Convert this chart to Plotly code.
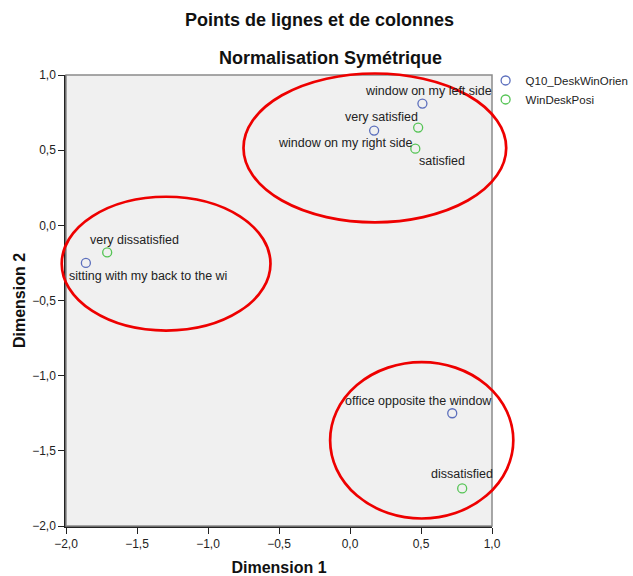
import plotly.graph_objects as go

# row points (Q10_DeskWinOrien)
q10_labels = ["window on my left side", "window on my right side",
              "sitting with my back to the wi", "office opposite the window"]
q10_dim1 = [0.51, 0.17, -1.86, 0.72]
q10_dim2 = [0.81, 0.63, -0.25, -1.25]

# column points (WinDeskPosi)
win_labels = ["very satisfied", "satisfied", "very dissatisfied", "dissatisfied"]
win_dim1 = [0.48, 0.46, -1.71, 0.79]
win_dim2 = [0.65, 0.51, -0.18, -1.75]

x_ticks = [-2.0, -1.5, -1.0, -0.5, 0.0, 0.5, 1.0]
y_ticks = [1.0, 0.5, 0.0, -0.5, -1.0, -1.5, -2.0]

# label offsets in pixels (xshift, yshift)
q10_offsets = [(6, 13), (-29, -12), (62, -13), (-34, 12)]
win_offsets = [(-37, 11), (27, -12), (27, 12), (0, 14)]

# hand drawn ellipses: x0, x1, y0, y1 in data units
ellipses = [(-0.75, 1.10, 0.02, 1.01),
            (-2.03, -0.56, -0.70, 0.19),
            (-0.14, 1.15, -1.95, -0.91)]

XR = [-2.0, 1.0]
YR = [-2.0, 1.0]
BLUE = "#5C6FBD"
GREEN = "#55C455"
FONT = "Liberation Sans, Arial, sans-serif"

fig = go.Figure()
fig.add_trace(go.Scatter(x=q10_dim1, y=q10_dim2, mode="markers", name="Q10_DeskWinOrien",
                         marker=dict(symbol="circle-open", size=9, color=BLUE, line_width=1.3)))
fig.add_trace(go.Scatter(x=win_dim1, y=win_dim2, mode="markers", name="WinDeskPosi",
                         marker=dict(symbol="circle-open", size=9, color=GREEN, line_width=1.3)))

annotations = []
for labels, xs, ys, offs in [(q10_labels, q10_dim1, q10_dim2, q10_offsets),
                             (win_labels, win_dim1, win_dim2, win_offsets)]:
    for lab, x, y, (dx, dy) in zip(labels, xs, ys, offs):
        annotations.append(dict(x=x, y=y, text=lab, showarrow=False, xshift=dx, yshift=dy,
                                font=dict(family=FONT, size=12.5, color="#222222")))

# chart titles
annotations.append(dict(text="<b>Points de lignes et de colonnes</b>", xref="paper", yref="paper",
                        x=0.594, y=1.122, xanchor="center", yanchor="middle", showarrow=False,
                        font=dict(family=FONT, size=18, color="#111111")))
annotations.append(dict(text="<b>Normalisation Symétrique</b>", xref="paper", yref="paper",
                        x=0.622, y=1.038, xanchor="center", yanchor="middle", showarrow=False,
                        font=dict(family=FONT, size=18, color="#111111")))


def px(v):
    return (v - XR[0]) / (XR[1] - XR[0])


def py(v):
    return (v - YR[0]) / (YR[1] - YR[0])


shapes = [dict(type="rect", xref="paper", yref="paper", x0=0, x1=1, y0=0, y1=1,
               line=dict(color="#8A8A8A", width=1.5), layer="above")]
for x0, x1, y0, y1 in ellipses:
    shapes.append(dict(type="circle", xref="paper", yref="paper",
                       x0=px(x0), x1=px(x1), y0=py(y0), y1=py(y1),
                       line=dict(color="#EE0000", width=2.7), layer="above"))

fig.update_xaxes(range=XR, tickvals=x_ticks, tickformat=".1f", showgrid=False, zeroline=False,
                 showline=True, linecolor="#222222", linewidth=1.5, ticks="outside", ticklen=6,
                 tickcolor="#222222", tickfont=dict(family=FONT, size=12, color="#222222"),
                 title=dict(text="<b>Dimension 1</b>", font=dict(family=FONT, size=16, color="#111111"),
                            standoff=14))
fig.update_yaxes(range=YR, tickvals=y_ticks, tickformat=".1f", showgrid=False, zeroline=False,
                 showline=True, linecolor="#222222", linewidth=1.5, ticks="outside", ticklen=6,
                 tickcolor="#222222", tickfont=dict(family=FONT, size=12, color="#222222"),
                 title=dict(text="<b>Dimension 2</b>", font=dict(family=FONT, size=16, color="#111111"),
                            standoff=3))

fig.update_layout(
    width=633, height=576,
    margin=dict(l=66, r=141, t=75, b=50, autoexpand=False),
    separators=",.",
    plot_bgcolor="#F0F0F0",
    paper_bgcolor="white",
    legend=dict(x=0.985, y=1.02, xanchor="left", yanchor="top", bgcolor="rgba(0,0,0,0)",
                font=dict(family=FONT, size=11.5, color="#222222"), itemwidth=30,
                tracegroupgap=0),
    annotations=annotations,
    shapes=shapes,
    showlegend=True,
)

fig.write_html("out.html", config={"displayModeBar": False},
               post_script="document.body.style.margin='0';")
